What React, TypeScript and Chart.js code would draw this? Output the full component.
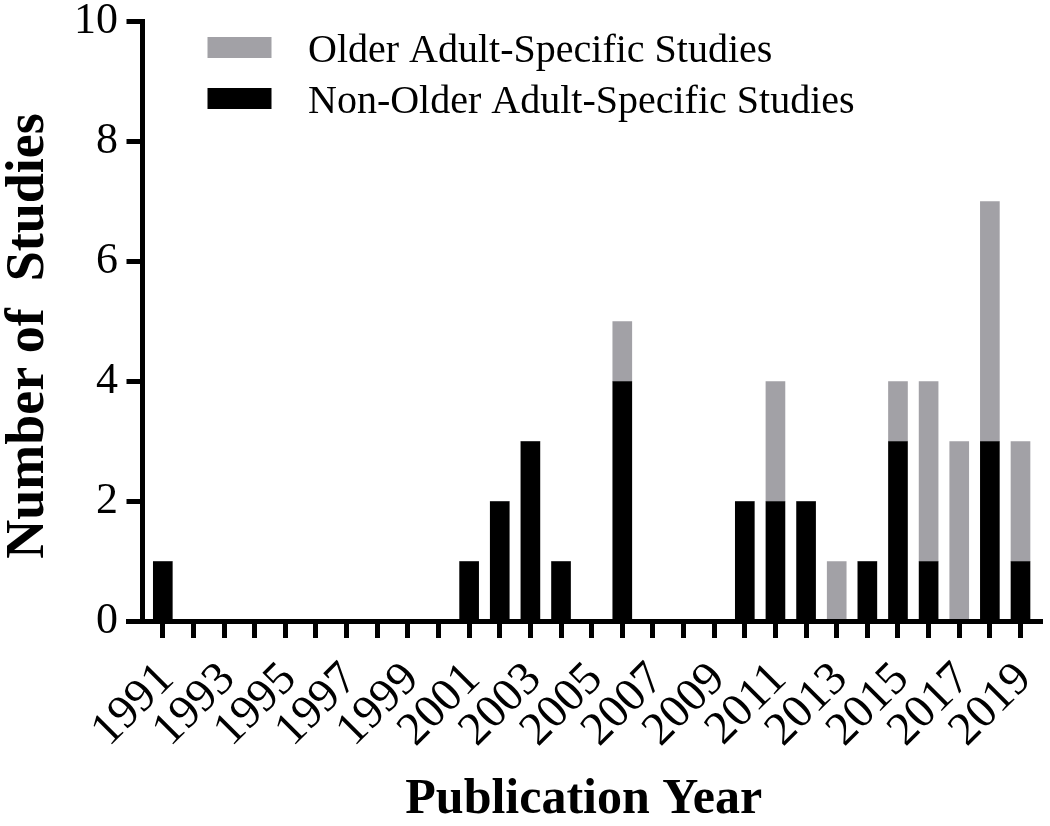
import React, { useEffect, useRef } from 'react';
import { Chart, registerables } from 'chart.js';

Chart.register(...registerables);

const years = [
  1991, 1992, 1993, 1994, 1995, 1996, 1997, 1998, 1999, 2000,
  2001, 2002, 2003, 2004, 2005, 2006, 2007, 2008, 2009, 2010,
  2011, 2012, 2013, 2014, 2015, 2016, 2017, 2018, 2019,
];
const nonOlderStudies = [
  1, 0, 0, 0, 0, 0, 0, 0, 0, 0,
  1, 2, 3, 1, 0, 4, 0, 0, 0, 2,
  2, 2, 0, 1, 3, 1, 0, 3, 1,
];
const olderStudies = [
  0, 0, 0, 0, 0, 0, 0, 0, 0, 0,
  0, 0, 0, 0, 0, 1, 0, 0, 0, 0,
  2, 0, 1, 0, 1, 3, 3, 4, 2,
];
const xTickLabels = [
  '1991', '1993', '1995', '1997', '1999', '2001', '2003', '2005',
  '2007', '2009', '2011', '2013', '2015', '2017', '2019',
];
const yTicks = [0, 2, 4, 6, 8, 10];

const olderLabel = 'Older Adult-Specific Studies';
const nonOlderLabel = 'Non-Older Adult-Specific Studies';
const xTitle = 'Publication Year';
const yTitle = 'Number of  Studies';

const GRAY = '#a2a1a6';
const BLACK = '#000000';
const SERIF = '"Liberation Serif", "Times New Roman", serif';

const decorPlugin = {
  id: 'decor',
  afterDraw(chart: any) {
    const { ctx, chartArea, scales } = chart;
    const y0 = scales.y.getPixelForValue(0);
    ctx.save();
    // x axis line (extends left past the y axis)
    ctx.strokeStyle = BLACK;
    ctx.lineWidth = 5;
    ctx.lineCap = 'butt';
    ctx.beginPath();
    ctx.moveTo(chartArea.left - 16.5, y0);
    ctx.lineTo(chartArea.right, y0);
    ctx.stroke();

    // axis titles
    ctx.fillStyle = BLACK;
    ctx.textBaseline = 'alphabetic';
    ctx.textAlign = 'center';
    ctx.font = `bold 50px ${SERIF}`;
    const cx = (chartArea.left + chartArea.right) / 2 - 9;
    ctx.fillText(xTitle, cx, y0 + 191.5);

    ctx.save();
    ctx.font = `bold 54px ${SERIF}`;
    ctx.translate(chartArea.left - 99.5, (chartArea.top + chartArea.bottom) / 2 + 14.5);
    ctx.rotate(-Math.PI / 2);
    ctx.fillText(yTitle, 0, 0);
    ctx.restore();

    // legend (gray row first)
    const ds = chart.data.datasets;
    const items = [ds[1], ds[0]];
    ctx.font = `40px ${SERIF}`;
    ctx.textAlign = 'left';
    items.forEach((d: any, i: number) => {
      const rowCenter = chartArea.top + 26 + i * 51;
      ctx.fillStyle = d.backgroundColor;
      ctx.fillRect(chartArea.left + 65, rowCenter - 10.5, 64, 21);
      ctx.fillStyle = BLACK;
      ctx.fillText(d.label, chartArea.left + 165.5, rowCenter + 14.5);
    });
    ctx.restore();
  },
};

export default function App() {
  const canvasRef = useRef<HTMLCanvasElement | null>(null);

  useEffect(() => {
    if (!canvasRef.current) return;
    const chart = new Chart(canvasRef.current, {
      type: 'bar',
      data: {
        datasets: [
          {
            label: nonOlderLabel,
            data: years.map((y, i) => ({ x: y, y: nonOlderStudies[i] })),
            backgroundColor: BLACK,
            borderWidth: 0,
            barThickness: 19,
          },
          {
            label: olderLabel,
            data: years.map((y, i) => ({ x: y, y: olderStudies[i] })),
            backgroundColor: GRAY,
            borderWidth: 0,
            barThickness: 19,
          },
        ],
      },
      options: {
        animation: false,
        responsive: true,
        maintainAspectRatio: false,
        layout: { padding: { top: 21.5, right: 7, left: 0, bottom: 0 } },
        plugins: {
          legend: { display: false },
          tooltip: { enabled: false },
          title: { display: false },
        },
        scales: {
          x: {
            type: 'linear',
            stacked: true,
            offset: false,
            min: 1990.337,
            max: 2019.7345,
            grid: {
              display: true,
              offset: false,
              drawOnChartArea: false,
              drawTicks: true,
              tickLength: 16.5,
              lineWidth: 5,
              color: BLACK,
            },
            border: { display: false },
            ticks: {
              stepSize: 1,
              includeBounds: false,
              autoSkip: false,
              minRotation: 45,
              maxRotation: 45,
              padding: 14,
              labelOffset: 4,
              color: BLACK,
              font: { family: SERIF, size: 47 },
              callback: (v: any) => {
                const s = String(v);
                return xTickLabels.includes(s) ? s : '';
              },
            },
            afterFit: (scale: any) => {
              scale.height = 204.5;
              scale.paddingLeft = 0;
              scale.paddingRight = 0;
            },
          },
          y: {
            stacked: true,
            min: 0,
            max: 10,
            grid: {
              display: true,
              drawOnChartArea: false,
              drawTicks: true,
              tickLength: 16,
              lineWidth: 5,
              color: BLACK,
            },
            border: { display: true, width: 5, color: BLACK },
            afterBuildTicks: (scale: any) => {
              scale.ticks = yTicks.map((v) => ({ value: v }));
            },
            ticks: {
              stepSize: 2,
              padding: 8.5,
              color: BLACK,
              font: { family: SERIF, size: 44 },
            },
            afterFit: (scale: any) => {
              scale.width = 142.5;
              scale.paddingTop = 0;
              scale.paddingBottom = 0;
            },
          },
        },
      },
      plugins: [decorPlugin],
    } as any);
    return () => chart.destroy();
  }, []);

  return (
    <div style={{ position: 'fixed', left: 0, top: 0, width: '1050px', height: '826px', background: '#fff' }}>
      <canvas ref={canvasRef} />
    </div>
  );
}
